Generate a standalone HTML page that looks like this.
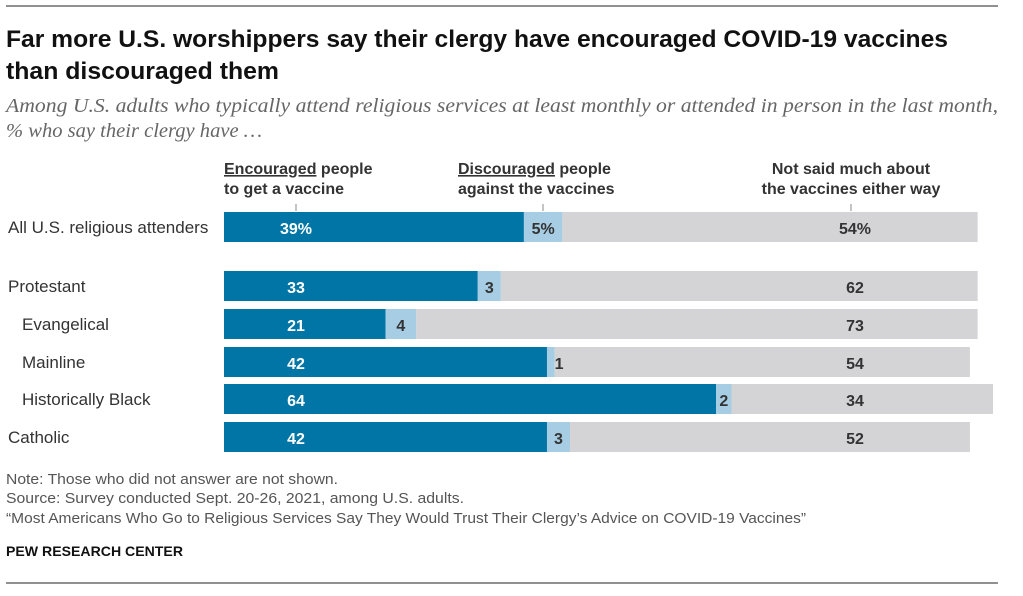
<!DOCTYPE html>
<html><head><meta charset="utf-8"><style>
body{margin:0;background:#fff;font-family:"Liberation Sans",Arial,sans-serif;}
svg text{font-family:"Liberation Sans",Arial,sans-serif;}
</style></head><body>
<svg width="1023" height="591" xmlns="http://www.w3.org/2000/svg">
<line x1="6" y1="6" x2="998" y2="6" stroke="#222" stroke-width="1"/>
<text x="6" y="47" font-size="24" font-weight="bold" fill="#111" textLength="942" lengthAdjust="spacingAndGlyphs">Far more U.S. worshippers say their clergy have encouraged COVID-19 vaccines</text>
<text x="6" y="79" font-size="24" font-weight="bold" fill="#111" textLength="273" lengthAdjust="spacingAndGlyphs">than discouraged them</text>
<text x="6" y="112" font-size="20" font-style="italic" fill="#666" textLength="992" lengthAdjust="spacingAndGlyphs" style="font-family:'Liberation Serif',serif">Among U.S. adults who typically attend religious services at least monthly or attended in person in the last month,</text>
<text x="6" y="137" font-size="20" font-style="italic" fill="#666" textLength="256" lengthAdjust="spacingAndGlyphs" style="font-family:'Liberation Serif',serif">% who say their clergy have …</text>
<g font-size="16" font-weight="bold" fill="#333">
<text x="224" y="174"><tspan text-decoration="underline">Encouraged</tspan> people</text>
<text x="224" y="194">to get a vaccine</text>
<text x="458" y="174"><tspan text-decoration="underline">Discouraged</tspan> people</text>
<text x="458" y="194">against the vaccines</text>
<text x="851" y="174" text-anchor="middle">Not said much about</text>
<text x="851" y="194" text-anchor="middle">the vaccines either way</text>
</g>
<line x1="296" y1="204" x2="296" y2="211" stroke="#888"/>
<line x1="543" y1="204" x2="543" y2="211" stroke="#888"/>
<line x1="851" y1="204" x2="851" y2="211" stroke="#888"/>
<g id="bars"></g>
<g font-size="14.5" fill="#555">
<text x="6" y="484" textLength="332" lengthAdjust="spacingAndGlyphs">Note: Those who did not answer are not shown.</text>
<text x="6" y="503" textLength="458" lengthAdjust="spacingAndGlyphs">Source: Survey conducted Sept. 20-26, 2021, among U.S. adults.</text>
<text x="6" y="523" textLength="800" lengthAdjust="spacingAndGlyphs">“Most Americans Who Go to Religious Services Say They Would Trust Their Clergy’s Advice on COVID-19 Vaccines”</text>
</g>
<text x="6" y="556" font-size="14" font-weight="bold" fill="#111" textLength="177" lengthAdjust="spacingAndGlyphs">PEW RESEARCH CENTER</text>
<line x1="6" y1="583" x2="998" y2="583" stroke="#222" stroke-width="1"/>
</svg>
<script>
const categories=["All U.S. religious attenders","Protestant","Evangelical","Mainline","Historically Black","Catholic"];
const encouraged=[39,33,21,42,64,42];
const discouraged=[5,3,4,1,2,3];
const notSaid=[54,62,73,54,34,52];
const pct=[true,false,false,false,false,false];
const indent=[false,false,true,true,true,false];
const rowY=[212,271,309,347,384,422];
const x0=224, k=7.69, h=30;
const X=v=>x0+v*k;
const NS="http://www.w3.org/2000/svg";
const g=document.getElementById('bars');
function mk(tag,attrs,parent){const e=document.createElementNS(NS,tag);for(const a in attrs)e.setAttribute(a,attrs[a]);parent.appendChild(e);return e;}
categories.forEach((c,i)=>{
  const y=rowY[i], s=pct[i]?"%":"";
  const lab=mk('text',{x:indent[i]?22:8,y:y+21,'font-size':17,fill:'#333'},g);lab.textContent=c;
  
  
  const a=encouraged[i],b=discouraged[i],n=notSaid[i];
  const r1=mk('rect',{x:X(0),y:y,width:a*k,height:h,fill:'#0176a6'},g);
  
  
  const r2=mk('rect',{x:X(a),y:y,width:b*k,height:h,fill:'#a6cde3'},g);
  
  
  const r3=mk('rect',{x:X(a+b),y:y,width:n*k,height:h,fill:'#d4d4d6'},g);
  
  
  const t1=mk('text',{x:296,y:y+22,'font-size':16,'font-weight':'bold',fill:'#fff','text-anchor':'middle'},g);t1.textContent=a+s;
  
  
  const t2=mk('text',{x:b*k<14?X(a+b):X(a+b/2),y:y+22,'font-size':16,'font-weight':'bold',fill:'#333','text-anchor':b*k<14?'start':'middle'},g);t2.textContent=b+s;
  
  
  const t3=mk('text',{x:855,y:y+22,'font-size':16,'font-weight':'bold',fill:'#333','text-anchor':'middle'},g);t3.textContent=n+s;
  
  
});
</script>
</body></html>
